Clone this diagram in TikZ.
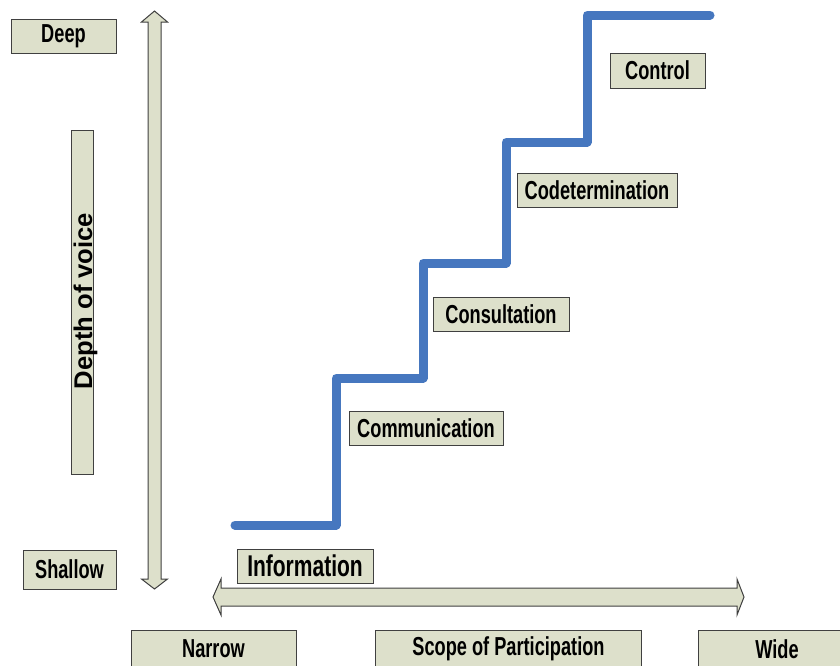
\documentclass[tikz,border=0pt]{standalone}
\usepackage{fontspec}
\setmainfont{Liberation Sans}
\newfontfamily\narrowfont{Liberation Sans}[FakeStretch=0.70]
\definecolor{boxfill}{RGB}{221,224,203}
\definecolor{boxline}{RGB}{64,64,64}
\definecolor{stairblue}{RGB}{70,119,191}
\begin{document}
\begin{tikzpicture}[x=0.75pt,y=-0.75pt,
  label box/.style={draw=boxline,fill=boxfill,line width=0.75pt,inner sep=0pt,
    font=\narrowfont\bfseries\fontsize{19.5}{21}\selectfont},
  big label/.style={label box,font=\narrowfont\bfseries\fontsize{22.5}{24}\selectfont},
  arrow body/.style={draw=boxline,fill=boxfill,line width=0.75pt,line join=miter},
  stair/.style={stairblue,line width=6.75pt,line cap=round,line join=round}]
\useasboundingbox (0,0) rectangle (840,665);

% depth axis labels
\node[label box,minimum width=78.75pt,minimum height=25.5pt] (deep) at (63.5,36) {Deep};
\node[label box,minimum width=69.75pt,minimum height=29.25pt] (shallow) at (69.5,569.5) {Shallow};
\node[label box,minimum width=16.5pt,minimum height=258pt] (depthbar) at (82,302) {};
\node[rotate=90,anchor=base,inner sep=0pt,
  font=\bfseries\fontsize{19.2}{20}\selectfont] (depth) at (92,301) {Depth of voice};

% vertical double arrow (depth of voice)
\draw[arrow body] (154.5,11) -- (167.5,22) -- (161,22) -- (161,579) -- (167.5,579)
  -- (154.5,589) -- (141.5,579) -- (148,579) -- (148,22) -- (141.5,22) -- cycle;

% horizontal double arrow (scope)
\draw[arrow body] (213,597) -- (221,579) -- (221,588) -- (737,588) -- (737,579)
  -- (744,597) -- (737,615) -- (737,606) -- (221,606) -- (221,615) -- cycle;

% scope axis labels
\node[label box,minimum width=123.75pt,minimum height=28.5pt] (narrow) at (213.5,649) {Narrow};
\node[label box,minimum width=199.5pt,minimum height=28.5pt] (scope) at (508.5,649) {Scope of Participation};
\node[label box,minimum width=118.5pt,minimum height=28.5pt] (wide) at (777,649) {Wide};

% staircase of participation
\draw[stair] (235,525) -- (336,525) -- (336,378) -- (423,378) -- (423,263)
  -- (506,263) -- (506,142) -- (587,142) -- (587,15) -- (710,15);

% step labels
\node[big label,minimum width=102pt,minimum height=25.5pt] (information) at (305,566) {Information};
\node[label box,minimum width=115.5pt,minimum height=25.5pt] (communication) at (426,428) {Communication};
\node[label box,minimum width=102pt,minimum height=25.5pt] (consultation) at (501,314) {Consultation};
\node[label box,minimum width=120pt,minimum height=25.5pt] (codetermination) at (597,190) {Codetermination};
\node[label box,minimum width=71.25pt,minimum height=26.25pt] (control) at (657.5,70.5) {Control};
\end{tikzpicture}
\end{document}
